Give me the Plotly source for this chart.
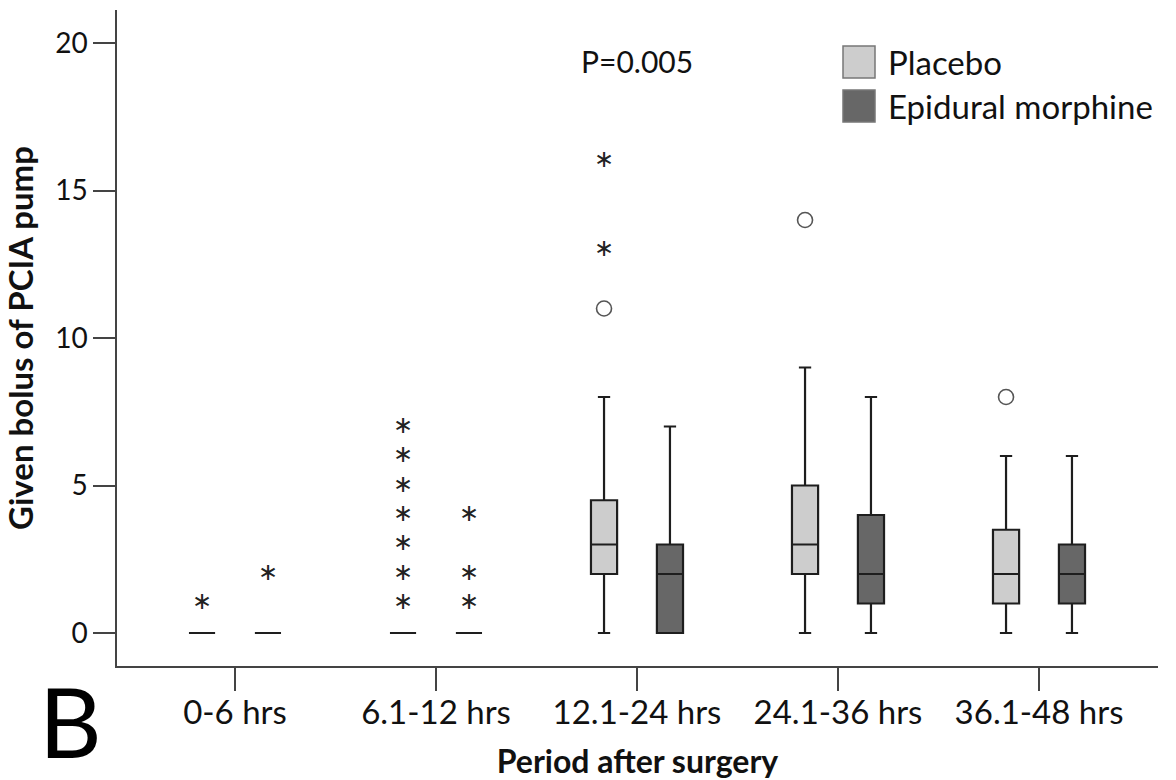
import plotly.graph_objects as go

# ---------------- data ----------------
categories = ["0-6 hrs", "6.1-12 hrs", "12.1-24 hrs", "24.1-36 hrs", "36.1-48 hrs"]
series_names = ["Placebo", "Epidural morphine"]

placebo_low = [0, 0, 0, 0, 0]
placebo_q1 = [0, 0, 2, 2, 1]
placebo_median = [0, 0, 3, 3, 2]
placebo_q3 = [0, 0, 4.5, 5, 3.5]
placebo_high = [0, 0, 8, 9, 6]

epidural_low = [0, 0, 0, 0, 0]
epidural_q1 = [0, 0, 0, 1, 1]
epidural_median = [0, 0, 2, 2, 2]
epidural_q3 = [0, 0, 3, 4, 3]
epidural_high = [0, 0, 7, 8, 6]

# extreme outliers (stars) and outliers (circles): category index, value
placebo_star_cat = [0, 1, 1, 1, 1, 1, 1, 1, 2, 2]
placebo_star_val = [1, 1, 2, 3, 4, 5, 6, 7, 13, 16]
placebo_circle_cat = [2, 3, 4]
placebo_circle_val = [11, 14, 8]
epidural_star_cat = [0, 1, 1, 1]
epidural_star_val = [2, 1, 2, 4]
epidural_circle_cat = []
epidural_circle_val = []

p_value_text = "P=0.005"
p_value_cat = 2
p_value_y = 19.4

y_ticks = [0, 5, 10, 15, 20]

# ---------------- style ----------------
W, H = 1176, 780
ML, MR, MT, MB = 117, 18, 10, 114
FONT = "Lato"
STAR_FONT = "DejaVu Sans"
STAR = "\u2217"
OFFSET = 0.164
BOX_W = 0.13
colors = ["#cdcdcd", "#676767"]
LINE = "#1e1e1e"
AX = "#444444"


def px_x(px):
    return (px - ML) / (W - ML - MR)


def px_y(py):
    return (H - MB - py) / (H - MT - MB)


fig = go.Figure()

groups = [
    (placebo_low, placebo_q1, placebo_median, placebo_q3, placebo_high,
     placebo_star_cat, placebo_star_val, placebo_circle_cat, placebo_circle_val, -OFFSET),
    (epidural_low, epidural_q1, epidural_median, epidural_q3, epidural_high,
     epidural_star_cat, epidural_star_val, epidural_circle_cat, epidural_circle_val, OFFSET),
]

for i, (lo, q1, med, q3, hi, sc, sv, cc, cv, off) in enumerate(groups):
    xs = [k + off for k in range(len(categories))]
    fig.add_trace(go.Box(
        x=xs, q1=q1, median=med, q3=q3, lowerfence=lo, upperfence=hi,
        width=BOX_W, whiskerwidth=0.47,
        fillcolor=colors[i], line=dict(color=LINE, width=2.2),
        name=series_names[i], showlegend=False, hoverinfo="skip",
    ))
    if sc:
        fig.add_trace(go.Scatter(
            x=[c + off for c in sc], y=sv, mode="text", text=[STAR] * len(sv),
            textposition="middle center",
            textfont=dict(family=STAR_FONT, size=24, color="#222"),
            showlegend=False, hoverinfo="skip",
        ))
    if cc:
        fig.add_trace(go.Scatter(
            x=[c + off for c in cc], y=cv, mode="markers",
            marker=dict(symbol="circle-open", size=15, color="#555",
                        line=dict(width=1.6, color="#555")),
            showlegend=False, hoverinfo="skip",
        ))

annotations = [
    dict(x=p_value_cat, y=p_value_y, xref="x", yref="y", text=p_value_text,
         showarrow=False, font=dict(family=FONT, size=30, color="#111"),
         xanchor="center", yanchor="middle"),
    dict(x=px_x(38), y=px_y(780), xref="paper", yref="paper", text="B",
         showarrow=False, font=dict(family=FONT, size=97, color="#000"),
         xanchor="left", yanchor="bottom", borderpad=0),
]
shapes = []
leg_top = [46, 90]
for i, name in enumerate(series_names):
    shapes.append(dict(type="rect", xref="paper", yref="paper",
                       x0=px_x(843), x1=px_x(875),
                       y0=px_y(leg_top[i] + 32), y1=px_y(leg_top[i]),
                       fillcolor=colors[i], line=dict(color="#777", width=1.5)))
    annotations.append(dict(x=px_x(886), y=px_y(leg_top[i] + 16), xref="paper", yref="paper",
                            text=name, showarrow=False, xanchor="left", yanchor="middle",
                            font=dict(family=FONT, size=33, color="#111")))

fig.update_layout(
    width=W, height=H,
    margin=dict(l=ML, r=MR, t=MT, b=MB, pad=0, autoexpand=False),
    paper_bgcolor="white", plot_bgcolor="white",
    showlegend=False,
    font=dict(family=FONT, color="#111"),
    annotations=annotations, shapes=shapes,
    xaxis=dict(
        range=[-0.587, 4.592], tickmode="array", automargin=False,
        tickvals=list(range(len(categories))), ticktext=categories,
        ticks="outside", ticklen=23, tickwidth=1.5, tickcolor=AX,
        showline=True, linecolor=AX, linewidth=1.5, showgrid=False, zeroline=False,
        tickfont=dict(family=FONT, size=33, color="#111"),
        ticklabelstandoff=-6,
        title=dict(text="Period after surgery", standoff=22,
                   font=dict(family=FONT, size=32, weight="bold", color="#111")),
    ),
    yaxis=dict(
        range=[-1.119, 21.119], tickmode="array", tickvals=y_ticks, automargin=False,
        ticks="outside", ticklen=22, tickwidth=1.5, tickcolor=AX,
        showline=True, linecolor=AX, linewidth=1.5, showgrid=False, zeroline=False,
        tickfont=dict(family=FONT, size=28, color="#111"),
        title=dict(text="Given bolus of PCIA pump", standoff=20,
                   font=dict(family=FONT, size=33, weight="bold", color="#111")),
    ),
)

fig.write_html("out.html")
